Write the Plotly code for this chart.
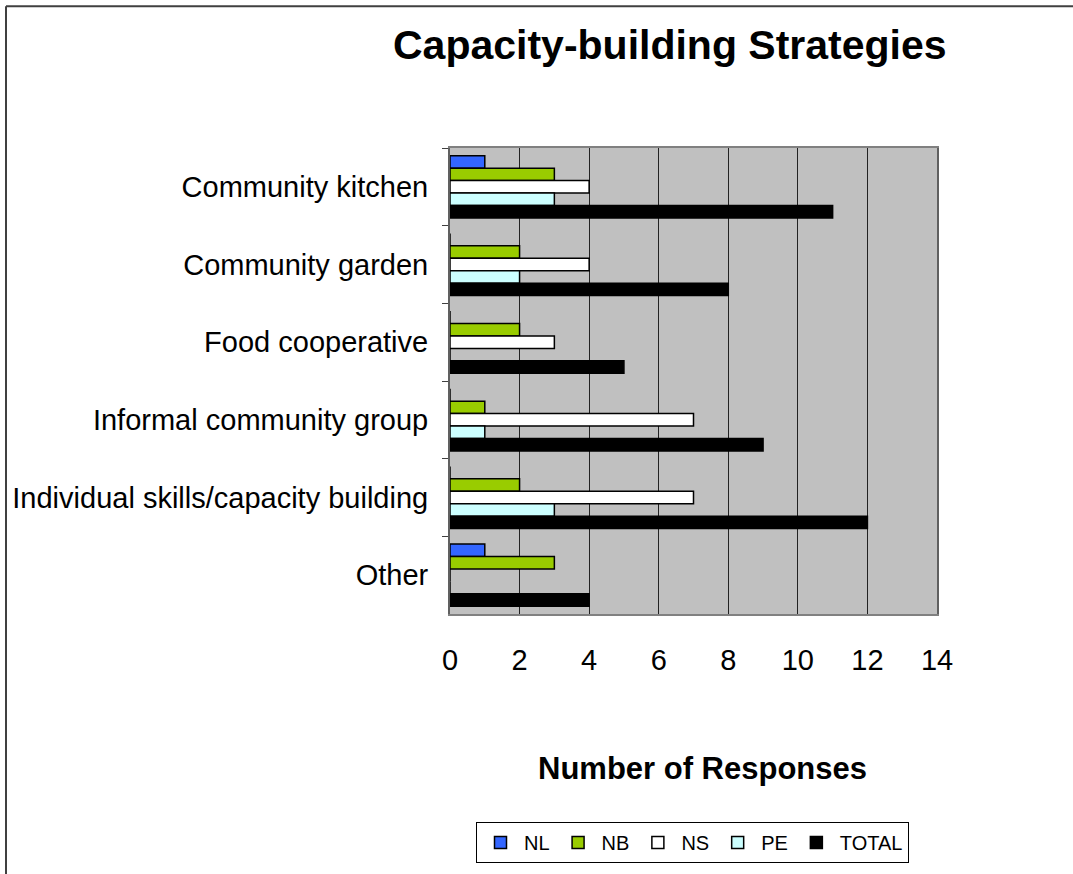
import plotly.graph_objects as go

categories = ["Community kitchen", "Community garden", "Food cooperative",
              "Informal community group", "Individual skills/capacity building", "Other"]
series_names = ["NL", "NB", "NS", "PE", "TOTAL"]
NL = [1, 0, 0, 0, 0, 1]
NB = [3, 2, 2, 1, 2, 3]
NS = [4, 4, 3, 7, 7, 0]
PE = [3, 2, 0, 1, 3, 0]
TOTAL = [11, 8, 5, 9, 12, 4]
x_ticks = [0, 2, 4, 6, 8, 10, 12, 14]

values = [NL, NB, NS, PE, TOTAL]
colors = ["#3366FF", "#99CC00", "#FFFFFF", "#CCFFFF", "#000000"]

W, H = 1073, 874
L, R, T, B = 450, 937, 148, 615

fig = go.Figure()
for name, vals, col in zip(series_names, values, colors):
    fig.add_trace(go.Bar(
        y=categories, x=vals, name=name, orientation="h",
        marker=dict(color=col, line=dict(color="#000000", width=1.5)),
    ))

def px(x):
    return (x - L) / (R - L)

def py(y):
    return (B - y) / (B - T)

fig.update_layout(
    width=W, height=H,
    margin=dict(l=L, r=W - R, t=T, b=H - B, pad=0),
    paper_bgcolor="white", plot_bgcolor="#C0C0C0",
    barmode="group", bargap=0.2, bargroupgap=0,
    font=dict(family="Liberation Sans, Arial, sans-serif", color="black"),
    showlegend=True,
    legend=dict(
        orientation="h", x=px(476), y=py(822), xanchor="left", yanchor="top",
        bordercolor="black", borderwidth=1, bgcolor="white",
        font=dict(size=20), traceorder="normal", itemwidth=37,
    ),
    xaxis=dict(
        range=[0, 14], tickvals=x_ticks, showgrid=True, gridcolor="#222222", gridwidth=1,
        showline=True, linecolor="#808080", linewidth=2, mirror=True,
        ticks="", tickfont=dict(size=29), ticklabelstandoff=19, zeroline=False,
    ),
    yaxis=dict(
        autorange="reversed", type="category", showgrid=False,
        showline=True, linecolor="#606060", linewidth=2, mirror=True,
        ticks="outside", ticklen=6, tickcolor="#404040", tickson="boundaries",
        tickfont=dict(size=29), ticklabelstandoff=14,
    ),
    annotations=[
        dict(text="<b>Capacity-building Strategies</b>", x=px(670), y=py(45),
             xref="paper", yref="paper", showarrow=False, font=dict(size=41),
             xanchor="center", yanchor="middle"),
        dict(text="<b>Number of Responses</b>", x=px(702), y=py(770),
             xref="paper", yref="paper", showarrow=False, font=dict(size=31),
             xanchor="center", yanchor="middle"),
    ],
    shapes=[
        dict(type="line", xref="paper", yref="paper", x0=px(6), x1=px(6), y0=py(6), y1=py(900),
             line=dict(color="#404040", width=2)),
        dict(type="line", xref="paper", yref="paper", x0=px(6), x1=px(1100), y0=py(6), y1=py(6),
             line=dict(color="#404040", width=2)),
    ],
)

fig.write_html("out.html", config={"displayModeBar": False},
               post_script="document.body.style.margin='0';document.body.style.overflow='hidden';")
